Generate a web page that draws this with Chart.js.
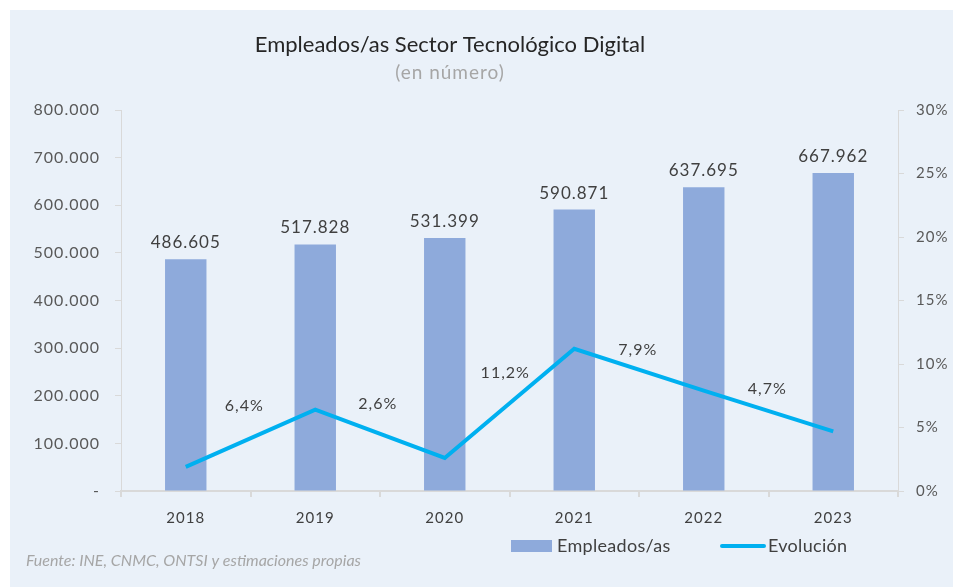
<!DOCTYPE html>
<html>
<head>
<meta charset="utf-8">
<script src="https://cdn.jsdelivr.net/npm/chart.js@4.4.1/dist/chart.umd.min.js"></script>
<style>
    html, body { margin: 0; padding: 0; background: #ffffff; }
    #wrap { width: 953px; height: 587px; position: relative; }
</style>
</head>
<body>
<div id="wrap"><canvas id="grafica"></canvas></div>
<script>

const anios = ["2018", "2019", "2020", "2021", "2022", "2023"];
const empleados = [486605, 517828, 531399, 590871, 637695, 667962];
const evolucion = [1.9, 6.4, 2.6, 11.2, 7.9, 4.7];
const etiquetasEvolucion = ["", "6,4%", "2,6%", "11,2%", "7,9%", "4,7%"];

const titulo = "Empleados/as Sector Tecnológico Digital";
const subtitulo = "(en número)";
const fuente = "Fuente: INE, CNMC, ONTSI y estimaciones propias";

// desplazamiento de las etiquetas de la línea respecto a cada punto (px)
const desplLinea = [
    [0, 0], [-71, -4], [-67, -54], [-69, 24], [-66, -41], [-66, -42]
];

const FUENTE = "Lato, 'Open Sans', sans-serif";

function formatoMiles(v) {
    if (v === 0) return "-";
    return String(Math.round(v)).replace(/\B(?=(\d{3})+(?!\d))/g, ".");
}

const textos = {
    id: "textos",

    beforeDraw(chart) {
        const ctx = chart.ctx;
        ctx.save();
        ctx.fillStyle = "#eaf1f9";
        ctx.fillRect(10, 10, chart.width - 10, chart.height - 10);
        ctx.restore();
        // espaciado algo más abierto, como en el original
        ctx.letterSpacing = "1px";
    },

    afterDatasetsDraw(chart) {
        const ctx = chart.ctx;
        ctx.save();

        // titulo y subtitulo
        ctx.textAlign = "center";
        ctx.textBaseline = "middle";
        ctx.letterSpacing = "0px";
        ctx.fillStyle = "#262626";
        ctx.font = "22px " + FUENTE;
        ctx.fillText(titulo, 450, 45);
        ctx.letterSpacing = "1px";
        ctx.fillStyle = "#a6a6a6";
        ctx.font = "19px " + FUENTE;
        ctx.fillText(subtitulo, 450, 73);

        // etiquetas de las barras
        const barras = chart.getDatasetMeta(0);
        ctx.fillStyle = "#404040";
        ctx.font = "17px " + FUENTE;
        ctx.textBaseline = "bottom";
        barras.data.forEach((el, i) => {
            ctx.fillText(formatoMiles(empleados[i]), el.x, el.y - 8);
        });

        // etiquetas de la línea
        const linea = chart.getDatasetMeta(1);
        ctx.font = "16px " + FUENTE;
        ctx.textBaseline = "middle";
        linea.data.forEach((el, i) => {
            if (!etiquetasEvolucion[i]) return;
            ctx.fillText(
                etiquetasEvolucion[i],
                el.x + desplLinea[i][0],
                el.y + desplLinea[i][1]
            );
        });

        // leyenda
        const ds = chart.data.datasets;
        ctx.textAlign = "left";
        ctx.letterSpacing = "0.3px";
        ctx.font = "18px " + FUENTE;
        ctx.fillStyle = ds[0].backgroundColor;
        ctx.fillRect(511, 540, 41, 12);
        ctx.fillStyle = "#404040";
        ctx.fillText(ds[0].label, 557, 546);

        ctx.strokeStyle = ds[1].borderColor;
        ctx.lineWidth = 4;
        ctx.lineCap = "round";
        ctx.beginPath();
        ctx.moveTo(722, 546);
        ctx.lineTo(764, 546);
        ctx.stroke();
        ctx.fillText(ds[1].label, 768, 546);

        // fuente
        ctx.letterSpacing = "0px";
        ctx.fillStyle = "#a6a6a6";
        ctx.font = "italic 16px " + FUENTE;
        ctx.fillText(fuente, 26, 561);

        ctx.restore();
    }
};

const canvas = document.getElementById("grafica");

new Chart(canvas, {

    data: {
        labels: anios,
        datasets: [
            {
                type: "bar",
                label: "Empleados/as",
                data: empleados,
                backgroundColor: "#8eaadb",
                barPercentage: 0.32,
                categoryPercentage: 1,
                yAxisID: "y",
                order: 2
            },
            {
                type: "line",
                label: "Evolución",
                data: evolucion,
                borderColor: "#00b0f0",
                borderWidth: 4,
                pointRadius: 0,
                tension: 0,
                fill: false,
                yAxisID: "y2",
                order: 1
            }
        ]
    },

    options: {
        responsive: true,
        maintainAspectRatio: false,
        animation: false,
        layout: {
            padding: { left: 10, top: 110, right: 0, bottom: 0 }
        },
        plugins: {
            legend: { display: false },
            tooltip: { enabled: false },
            title: { display: false }
        },
        scales: {
            x: {
                afterFit: (scale) => { scale.height = 96; },
                border: { color: "#d9d9d9", width: 2 },
                grid: {
                    offset: true,
                    drawOnChartArea: false,
                    tickLength: 6,
                    color: "#d9d9d9",
                    lineWidth: 2
                },
                ticks: {
                    color: "#404040",
                    padding: 12,
                    font: { family: FUENTE, size: 15 }
                }
            },
            y: {
                position: "left",
                min: 0,
                max: 800000,
                afterFit: (scale) => { scale.width = 111; },
                border: { color: "#d9d9d9", width: 1 },
                grid: {
                    drawOnChartArea: false,
                    tickLength: 6,
                    color: "#d9d9d9"
                },
                ticks: {
                    stepSize: 100000,
                    color: "#595959",
                    padding: 15,
                    font: { family: FUENTE, size: 16 },
                    callback: (v) => formatoMiles(v)
                }
            },
            y2: {
                position: "right",
                min: 0,
                max: 30,
                afterFit: (scale) => { scale.width = 55; },
                border: { color: "#d9d9d9", width: 1 },
                grid: {
                    drawOnChartArea: false,
                    tickLength: 6,
                    color: "#d9d9d9"
                },
                ticks: {
                    stepSize: 5,
                    color: "#595959",
                    padding: 12,
                    font: { family: FUENTE, size: 15 },
                    callback: (v) => v + "%"
                }
            }
        }
    },

    plugins: [textos]
});
</script>
</body>
</html>
